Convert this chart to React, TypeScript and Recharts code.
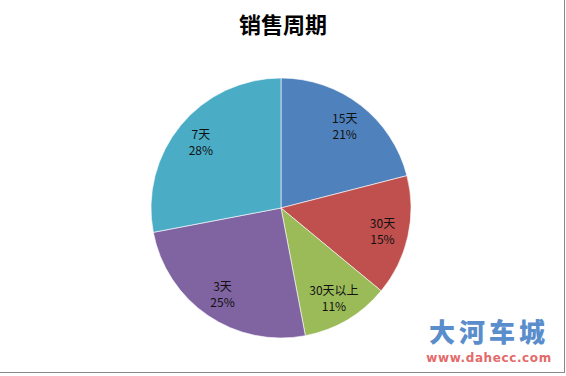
import React from 'react';
import { PieChart, Pie, Cell, Customized } from 'recharts';

const categories = ['15天', '30天', '30天以上', '3天', '7天'];
const shares = [21, 15, 11, 25, 28];
const colors = ['#4F81BD', '#C0504D', '#9BBB59', '#8064A2', '#4BACC6'];
const title = '销售周期';
const watermarkCn = '大河车城';
const watermarkUrl = 'www.dahecc.com';

const data = categories.map((name, i) => ({ name, value: shares[i] }));
const RAD = Math.PI / 180;
const FONT = '"Noto Sans CJK SC", "DejaVu Sans", sans-serif';

const renderLabel = (props: any) => {
  const { cx, cy, midAngle, index } = props;
  const r = 104;
  const x = cx + r * Math.cos(-midAngle * RAD);
  const y = cy + r * Math.sin(-midAngle * RAD);
  return (
    <text x={x} y={y} textAnchor="middle" fontFamily={FONT} fontSize={12} fill="#111">
      <tspan x={x} dy={-3}>{categories[index]}</tspan>
      <tspan x={x} dy={16}>{shares[index] + '%'}</tspan>
    </text>
  );
};

const Decorations = () => (
  <g>
    <text x={283} y={33} textAnchor="middle" fontFamily={FONT} fontWeight="bold" fontSize={22} fill="#000">{title}</text>
    <text x={489} y={342} textAnchor="middle" fontFamily={FONT} fontWeight="900" fontSize={26} fill="#5A8DCB" letterSpacing={4}>{watermarkCn}</text>
    <text x={489} y={362} textAnchor="middle" fontFamily={'"DejaVu Sans", sans-serif'} fontWeight="bold" fontSize={12} fill="#E46A6A" letterSpacing={0.6}>{watermarkUrl}</text>
  </g>
);

export default function App() {
  return (
    <div style={{ position: 'absolute', left: 0, top: 0, width: 566, height: 376, background: '#fff' }}>
      <div style={{ position: 'absolute', left: 0, top: 0, width: 564, height: 372, borderRight: '1px solid #888', borderBottom: '1px solid #888' }} />
      <PieChart width={566} height={376} margin={{ top: 0, right: 0, bottom: 0, left: 0 }} style={{ position: 'absolute', left: 0, top: 0 }}>
        <Pie
          data={data}
          dataKey="value"
          nameKey="name"
          cx={281}
          cy={208}
          outerRadius={130}
          startAngle={90}
          endAngle={-270}
          stroke="#ffffff"
          strokeWidth={0.6}
          label={renderLabel}
          labelLine={false}
          isAnimationActive={false}
        >
          {data.map((d, i) => (
            <Cell key={d.name} fill={colors[i]} />
          ))}
        </Pie>
        <Customized component={Decorations} />
      </PieChart>
    </div>
  );
}
